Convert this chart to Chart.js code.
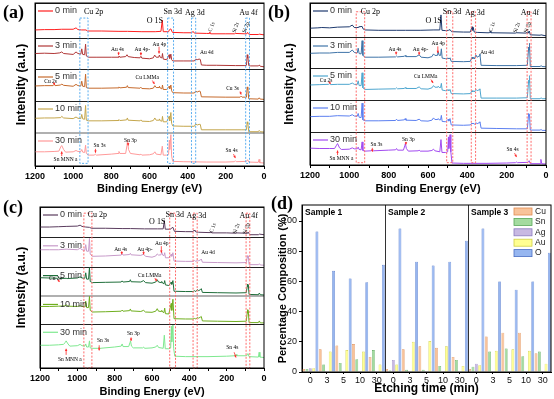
<!DOCTYPE html>
<html><head><meta charset="utf-8">
<script src="https://cdn.jsdelivr.net/npm/chart.js@4.4.1/dist/chart.umd.min.js"></script>
<style>
html,body{margin:0;padding:0;background:#fff;}
body{width:554px;height:399px;position:relative;overflow:hidden;}
canvas{position:absolute;}
.lab{position:absolute;font:bold 18px "Liberation Serif","Times New Roman",serif;color:#000;line-height:18px;}
</style></head><body>
<canvas id="ca" width="277" height="197" style="left:0;top:0"></canvas>
<canvas id="cb" width="277" height="197" style="left:277px;top:0"></canvas>
<canvas id="cc" width="280" height="202" style="left:0;top:197px"></canvas>
<canvas id="cd" width="278" height="202" style="left:276px;top:197px"></canvas>
<div class="lab" style="left:3px;top:3px">(a)</div>
<div class="lab" style="left:268px;top:3px">(b)</div>
<div class="lab" style="left:3px;top:198px">(c)</div>
<div class="lab" style="left:271px;top:194px">(d)</div>
<script>
// ---------------- DATA ----------------
const TIMES = ['0 min', '3 min', '5 min', '10 min', '30 min'];
const BE_TICK_STEP = 200;

// Panel (a) spectra: [binding energy (eV), relative intensity within its strip]
const A_0 = [[1200,0.23],[1150,0.24],[1100,0.24],[1060,0.25],[1000,0.25],[985,0.29],[975,0.24],[955,0.23],[933,0.23],[925,0.2],[850,0.2],[760,0.19],[715,0.19],[640,0.18],[570,0.18],[540,0.19],[533,0.51],[528,0.18],[500,0.18],[495,0.24],[488,0.26],[480,0.16],[420,0.15],[378,0.15],[372,0.19],[365,0.14],[300,0.13],[288,0.13],[284,0.17],[280,0.12],[200,0.12],[155,0.12],[150,0.13],[100,0.12],[90,0.12],[86,0.16],[82,0.12],[75,0.1],[30,0.1],[25,0.11],[0,0.09]];
const A_3 = [[1200,0.5],[1150,0.51],[1100,0.5],[1070,0.52],[1060,0.55],[1050,0.5],[1000,0.47],[985,0.55],[975,0.5],[960,0.48],[955,0.65],[950,0.47],[940,0.46],[935,0.8],[931,0.42],[920,0.38],[880,0.38],[800,0.38],[765,0.38],[760,0.42],[755,0.38],[725,0.4],[718,0.46],[712,0.4],[680,0.37],[650,0.36],[645,0.41],[640,0.35],[600,0.33],[580,0.36],[573,0.45],[565,0.38],[552,0.38],[548,0.45],[543,0.37],[535,0.36],[532,0.5],[528,0.32],[510,0.3],[497,0.46],[494,0.34],[488,0.48],[484,0.3],[478,0.26],[420,0.26],[365,0.26],[358,0.32],[350,0.3],[340,0.32],[334,0.31],[328,0.13],[300,0.12],[250,0.12],[150,0.11],[100,0.11],[92,0.12],[88,0.46],[86,0.35],[84,0.42],[80,0.11],[70,0.1],[30,0.1],[25,0.13],[20,0.09],[0,0.07]];
const A_5 = [[1200,0.47],[1150,0.48],[1105,0.48],[1100,0.52],[1095,0.48],[1065,0.5],[1060,0.53],[1050,0.49],[1000,0.46],[985,0.52],[975,0.48],[960,0.47],[955,0.62],[950,0.46],[940,0.45],[935,0.84],[931,0.42],[920,0.4],[850,0.4],[765,0.41],[760,0.44],[755,0.41],[720,0.43],[716,0.48],[712,0.42],[650,0.4],[645,0.43],[640,0.39],[600,0.38],[580,0.4],[572,0.48],[565,0.42],[550,0.42],[548,0.46],[543,0.4],[535,0.38],[532,0.5],[528,0.36],[510,0.36],[497,0.46],[494,0.38],[488,0.5],[484,0.32],[478,0.26],[420,0.25],[365,0.25],[358,0.31],[350,0.28],[340,0.31],[334,0.3],[328,0.13],[200,0.12],[125,0.12],[120,0.15],[115,0.12],[92,0.12],[88,0.44],[86,0.36],[84,0.42],[80,0.07],[30,0.06],[25,0.1],[20,0.06],[0,0.05]];
const A_10 = [[1200,0.46],[1150,0.47],[1100,0.47],[1065,0.48],[1060,0.52],[1050,0.47],[1000,0.45],[985,0.5],[975,0.46],[960,0.45],[955,0.58],[950,0.44],[940,0.43],[935,0.86],[931,0.4],[920,0.38],[850,0.38],[765,0.39],[760,0.42],[755,0.39],[720,0.41],[716,0.47],[712,0.4],[650,0.38],[645,0.41],[640,0.37],[600,0.36],[580,0.39],[572,0.47],[565,0.4],[550,0.4],[548,0.44],[543,0.38],[535,0.37],[532,0.52],[528,0.35],[510,0.35],[497,0.52],[494,0.38],[488,0.64],[484,0.3],[478,0.22],[420,0.21],[365,0.21],[358,0.28],[350,0.25],[340,0.27],[334,0.27],[328,0.1],[200,0.1],[120,0.1],[92,0.1],[88,0.35],[86,0.28],[84,0.33],[80,0.04],[30,0.04],[25,0.08],[20,0.04],[0,0.03]];
const A_30 = [[1200,0.43],[1150,0.43],[1100,0.44],[1075,0.45],[1065,0.58],[1060,0.62],[1050,0.5],[1040,0.42],[1000,0.43],[985,0.47],[975,0.44],[960,0.44],[955,0.5],[950,0.42],[940,0.41],[935,0.63],[931,0.38],[920,0.33],[890,0.33],[884,0.36],[878,0.33],[800,0.36],[765,0.38],[760,0.44],[755,0.38],[725,0.38],[718,0.62],[715,0.79],[710,0.5],[700,0.38],[650,0.34],[645,0.36],[640,0.33],[600,0.34],[580,0.37],[572,0.43],[565,0.36],[540,0.34],[533,0.6],[528,0.33],[510,0.33],[500,0.35],[496,0.78],[494,0.5],[488,0.95],[484,0.3],[478,0.14],[420,0.13],[300,0.12],[200,0.12],[155,0.13],[150,0.16],[145,0.13],[95,0.14],[90,0.15],[86,0.19],[80,0.12],[30,0.11],[26,0.2],[22,0.1],[0,0.09]];

// Panel (b) spectra
const B_0 = [[1200,0.28],[1160,0.29],[1140,0.3],[1100,0.29],[1060,0.31],[1000,0.32],[985,0.37],[975,0.3],[955,0.3],[952,0.32],[935,0.33],[930,0.26],[920,0.23],[850,0.22],[760,0.22],[715,0.22],[640,0.22],[570,0.23],[540,0.23],[534,0.66],[529,0.22],[510,0.21],[496,0.22],[488,0.24],[480,0.18],[420,0.17],[385,0.17],[376,0.32],[373,0.22],[370,0.3],[365,0.17],[350,0.16],[300,0.15],[288,0.15],[284,0.19],[280,0.15],[155,0.14],[150,0.15],[102,0.14],[98,0.15],[90,0.14],[86,0.2],[84,0.18],[80,0.09],[30,0.08],[25,0.09],[0,0.06]];
const B_3 = [[1200,0.49],[1150,0.5],[1100,0.5],[1060,0.52],[1000,0.52],[985,0.6],[975,0.52],[960,0.5],[955,0.66],[950,0.48],[940,0.47],[935,0.91],[931,0.42],[920,0.36],[850,0.36],[765,0.37],[760,0.4],[755,0.37],[720,0.39],[716,0.42],[712,0.38],[660,0.38],[645,0.44],[635,0.36],[600,0.34],[580,0.38],[572,0.47],[565,0.42],[552,0.42],[548,0.54],[543,0.42],[536,0.42],[532,0.64],[528,0.33],[510,0.31],[497,0.33],[494,0.3],[488,0.34],[482,0.22],[420,0.21],[385,0.22],[376,0.36],[373,0.3],[370,0.36],[365,0.3],[356,0.43],[350,0.36],[340,0.4],[336,0.47],[330,0.09],[250,0.08],[150,0.08],[95,0.09],[88,0.7],[86,0.6],[84,0.82],[80,0.05],[30,0.05],[25,0.08],[20,0.05],[0,0.04]];
const B_5 = [[1200,0.47],[1150,0.48],[1105,0.49],[1100,0.51],[1095,0.48],[1060,0.49],[1000,0.49],[985,0.53],[975,0.49],[960,0.48],[955,0.6],[950,0.45],[940,0.45],[935,0.85],[931,0.38],[920,0.33],[850,0.34],[765,0.35],[760,0.38],[755,0.35],[720,0.36],[716,0.39],[712,0.36],[660,0.36],[645,0.41],[635,0.35],[600,0.34],[580,0.38],[572,0.45],[565,0.4],[550,0.4],[548,0.43],[543,0.39],[536,0.39],[532,0.52],[528,0.31],[510,0.29],[497,0.32],[494,0.29],[488,0.33],[482,0.2],[420,0.19],[385,0.2],[376,0.29],[373,0.25],[370,0.29],[365,0.25],[356,0.33],[350,0.29],[340,0.32],[336,0.35],[330,0.06],[250,0.06],[150,0.06],[95,0.07],[88,0.62],[86,0.55],[84,0.76],[80,0.04],[30,0.04],[25,0.07],[20,0.04],[0,0.04]];
const B_10 = [[1200,0.48],[1150,0.49],[1100,0.49],[1060,0.51],[1000,0.5],[985,0.54],[975,0.5],[960,0.49],[955,0.58],[950,0.46],[940,0.45],[935,0.9],[931,0.38],[920,0.35],[850,0.35],[765,0.36],[760,0.4],[755,0.36],[720,0.38],[716,0.42],[712,0.37],[660,0.36],[645,0.4],[635,0.35],[600,0.34],[580,0.37],[572,0.44],[565,0.39],[550,0.39],[548,0.42],[543,0.38],[536,0.38],[532,0.52],[528,0.33],[510,0.32],[497,0.4],[494,0.34],[488,0.42],[482,0.22],[420,0.21],[385,0.22],[376,0.28],[373,0.25],[370,0.28],[365,0.24],[356,0.29],[350,0.26],[340,0.29],[336,0.32],[330,0.12],[250,0.11],[150,0.1],[95,0.1],[88,0.58],[86,0.5],[84,0.55],[80,0.06],[30,0.06],[25,0.08],[20,0.05],[0,0.05]];
const B_30 = [[1200,0.51],[1150,0.5],[1100,0.5],[1075,0.5],[1065,0.6],[1060,0.65],[1050,0.52],[1040,0.47],[1000,0.48],[985,0.52],[975,0.49],[960,0.49],[955,0.54],[950,0.47],[940,0.46],[935,0.7],[931,0.44],[920,0.42],[890,0.43],[884,0.46],[878,0.43],[800,0.45],[765,0.46],[760,0.5],[755,0.45],[725,0.45],[718,0.58],[715,0.65],[710,0.5],[700,0.42],[650,0.43],[645,0.45],[640,0.42],[600,0.42],[580,0.44],[572,0.48],[565,0.43],[540,0.4],[534,0.77],[529,0.38],[510,0.38],[500,0.4],[496,0.85],[494,0.5],[488,0.92],[484,0.4],[478,0.06],[420,0.05],[300,0.05],[200,0.06],[155,0.07],[150,0.09],[145,0.07],[95,0.08],[90,0.1],[86,0.13],[80,0.04],[30,0.04],[26,0.17],[22,0.04],[0,0.03]];

// Panel (c) spectra
const C_0 = [[1200,0.35],[1150,0.35],[1100,0.36],[1060,0.37],[1000,0.38],[985,0.41],[975,0.37],[955,0.35],[935,0.34],[925,0.31],[850,0.31],[760,0.3],[715,0.3],[640,0.29],[570,0.29],[540,0.29],[534,0.56],[529,0.28],[500,0.28],[495,0.32],[488,0.34],[480,0.21],[420,0.2],[380,0.2],[375,0.25],[370,0.22],[365,0.19],[350,0.18],[300,0.17],[288,0.17],[284,0.2],[280,0.16],[200,0.16],[155,0.15],[150,0.16],[100,0.15],[90,0.15],[86,0.19],[82,0.15],[75,0.1],[30,0.1],[25,0.12],[0,0.1]];
const C_3 = [[1200,0.6],[1150,0.6],[1100,0.6],[1060,0.62],[1000,0.6],[985,0.65],[975,0.6],[960,0.58],[955,0.77],[950,0.55],[940,0.55],[935,0.98],[931,0.45],[920,0.38],[850,0.39],[765,0.42],[760,0.47],[755,0.42],[720,0.44],[716,0.48],[712,0.43],[660,0.41],[645,0.45],[635,0.38],[600,0.35],[580,0.39],[572,0.46],[565,0.42],[552,0.43],[548,0.52],[543,0.42],[536,0.4],[532,0.5],[528,0.33],[510,0.33],[497,0.45],[494,0.38],[488,0.5],[482,0.22],[420,0.21],[380,0.21],[373,0.24],[365,0.21],[356,0.25],[350,0.23],[340,0.26],[336,0.29],[330,0.18],[250,0.17],[150,0.16],[95,0.17],[88,0.4],[86,0.33],[84,0.38],[80,0.1],[30,0.1],[25,0.13],[20,0.09],[0,0.08]];
const C_5 = [[1200,0.65],[1150,0.64],[1105,0.63],[1100,0.66],[1095,0.62],[1060,0.63],[1055,0.62],[1000,0.64],[985,0.68],[975,0.64],[960,0.63],[955,0.82],[950,0.6],[940,0.6],[935,1.0],[931,0.52],[920,0.48],[850,0.49],[765,0.5],[760,0.54],[755,0.5],[720,0.52],[716,0.58],[712,0.51],[660,0.5],[645,0.55],[635,0.48],[600,0.46],[580,0.5],[572,0.58],[565,0.5],[550,0.48],[548,0.52],[543,0.46],[536,0.44],[532,0.55],[528,0.4],[510,0.38],[497,0.5],[494,0.42],[488,0.55],[482,0.18],[420,0.17],[380,0.17],[373,0.2],[365,0.17],[356,0.24],[350,0.2],[340,0.24],[336,0.27],[330,0.14],[250,0.13],[150,0.12],[95,0.13],[88,0.42],[86,0.34],[84,0.38],[80,0.07],[30,0.06],[25,0.12],[20,0.06],[0,0.05]];
const C_10 = [[1200,0.64],[1150,0.64],[1100,0.65],[1065,0.66],[1060,0.7],[1050,0.65],[1000,0.64],[985,0.67],[975,0.64],[960,0.63],[955,0.83],[950,0.6],[940,0.6],[935,1.0],[931,0.5],[920,0.44],[850,0.45],[765,0.47],[760,0.51],[755,0.47],[720,0.49],[716,0.55],[712,0.48],[660,0.46],[645,0.5],[635,0.44],[600,0.43],[580,0.47],[572,0.56],[565,0.47],[550,0.46],[548,0.5],[543,0.44],[536,0.42],[532,0.58],[528,0.38],[510,0.37],[497,0.75],[494,0.5],[488,0.9],[482,0.2],[420,0.19],[380,0.19],[373,0.21],[365,0.19],[356,0.25],[350,0.22],[340,0.26],[336,0.28],[330,0.12],[250,0.11],[150,0.1],[95,0.11],[88,0.52],[86,0.4],[84,0.45],[80,0.06],[30,0.06],[25,0.12],[20,0.05],[0,0.05]];
const C_30 = [[1200,0.52],[1150,0.52],[1100,0.53],[1075,0.54],[1065,0.58],[1060,0.62],[1050,0.55],[1040,0.5],[1000,0.51],[985,0.54],[975,0.51],[960,0.5],[955,0.55],[950,0.48],[940,0.48],[935,0.62],[931,0.46],[920,0.45],[890,0.45],[884,0.47],[878,0.45],[800,0.48],[765,0.5],[760,0.55],[755,0.49],[725,0.49],[718,0.58],[715,0.62],[710,0.5],[700,0.46],[650,0.46],[645,0.48],[640,0.45],[600,0.46],[580,0.48],[572,0.52],[565,0.47],[540,0.45],[534,0.75],[529,0.44],[510,0.44],[500,0.46],[496,0.95],[494,0.6],[488,0.98],[484,0.45],[478,0.27],[420,0.26],[300,0.26],[200,0.27],[155,0.28],[150,0.31],[145,0.28],[95,0.28],[90,0.3],[86,0.33],[80,0.26],[30,0.25],[26,0.36],[22,0.25],[0,0.24]];

// Peak labels: text, BE, strip (0 = top), relative height, size, angle, panels
const PEAK_LABELS = [
  ['Cu 2p', 893, 0, 0.74, 'L', 0, 'abc'],
  ['O 1S', 572, 0, 0.5, 'L', 0, 'abc'],
  ['Sn 3d', 478, 0, 0.74, 'L', 0, 'abc'],
  ['Ag 3d', 362, 0, 0.72, 'L', 0, 'abc'],
  ['Au 4f', 82, 0, 0.72, 'L', 0, 'abc'],
  ['C 1s', 274, 0, 0.32, 's', -1.2, 'abc'],
  ['Si 2s', 148, 0, 0.3, 's', -1.2, 'abc'],
  ['Si 2p', 94, 0, 0.3, 's', -1.2, 'abc'],
  ['Au 4s', 768, 1, 0.62, 's', 0, 'abc'],
  ['Au 4p-', 638, 1, 0.62, 's', 0, 'abc'],
  ['Au 4p', 548, 1, 0.8, 's', 0, 'abc'],
  ['Au 4d', 300, 1, 0.52, 's', 0, 'abc'],
  ['Cu 2s', 1118, 2, 0.62, 's', 0, 'abc'],
  ['Cu LMMa', 612, 2, 0.72, 's', 0, 'abc'],
  ['Cu 3s', 165, 2, 0.38, 's', 0, 'a'],
  ['Sn 3s', 862, 4, 0.63, 's', 0, 'abc'],
  ['Sn 3p', 700, 4, 0.78, 's', 0, 'abc'],
  ['Sn MNN a', 1040, 4, 0.2, 's', 0, 'abc'],
  ['Sn 4s', 170, 4, 0.46, 's', 0, 'abc']
];
// Arrows: BE from, rel from, BE to, rel to, strip, panels
const PEAK_ARROWS = [
  [762, 0.55, 762, 0.45, 1, 'abc'],
  [645, 0.55, 645, 0.44, 1, 'abc'],
  [550, 0.72, 550, 0.5, 1, 'abc'],
  [1102, 0.57, 1096, 0.5, 2, 'abc'],
  [585, 0.64, 574, 0.53, 2, 'abc'],
  [125, 0.3, 120, 0.2, 2, 'a'],
  [883, 0.52, 883, 0.4, 4, 'abc'],
  [712, 0.7, 712, 0.62, 4, 'abc'],
  [1060, 0.3, 1060, 0.44, 4, 'abc'],
  [160, 0.36, 150, 0.24, 4, 'abc']
];
// Dashed boxes marking peak regions (BE from, BE to)
const PEAK_BOXES = [[965, 922], [505, 474], [380, 358], [96, 76]];

// Panel (d) composition data
const ETCH_LABELS = ['0','3','5','10','30','0','3','5','10','30','0','3','5','10','30'];
const SAMPLES = ['Sample 1', 'Sample 2', 'Sample 3'];
const CU = [2, 15, 17.5, 18.5, 10, 2, 15, 17, 16, 10, 2, 23.5, 26, 26, 12.5];
const SN = [2, 5, 6, 8.5, 14.5, 1, 1.5, 1.5, 4, 8, 3.5, 13.5, 15.5, 10.5, 13.5];
const AG = [2.5, 0, 0, 0, 0, 8, 0, 0.5, 0, 0, 5.5, 0, 0, 0, 0];
const AU = [2.5, 13.5, 14.5, 13.5, 5, 5, 20, 20.5, 17, 4, 4.5, 14, 15, 14, 5.5];
const O = [93, 67, 62, 59.5, 71, 95, 73, 70.5, 73, 87, 95, 60, 54.5, 60, 79];
const COMP_TICKS_STEP = 20;

// ---------------- DRAWING ----------------
const SANS = '"Liberation Sans", Arial, sans-serif';
const SERIF = '"Liberation Serif", "Times New Roman", serif';
Chart.defaults.font.family = SANS;

function bandBottom(bands, i) { let s = 0; for (let k = i + 1; k < bands.length; k++) s += bands[k]; return s; }
function bandVal(bands, i, r) { return bandBottom(bands, i) + r * bands[i]; }

function arrow(ctx, x1, y1, x2, y2) {
  ctx.beginPath(); ctx.moveTo(x1, y1); ctx.lineTo(x2, y2); ctx.stroke();
  const a = Math.atan2(y2 - y1, x2 - x1), h = 2.6;
  ctx.beginPath();
  ctx.moveTo(x2, y2);
  ctx.lineTo(x2 - h * Math.cos(a - 0.5), y2 - h * Math.sin(a - 0.5));
  ctx.lineTo(x2 - h * Math.cos(a + 0.5), y2 - h * Math.sin(a + 0.5));
  ctx.closePath(); ctx.fill();
}

function xpsPlugin(cfg) {
  return {
    id: 'xps' + cfg.key,
    afterDatasetsDraw(chart) {
      const ctx = chart.ctx, xs = chart.scales.x, ys = chart.scales.y, ca = chart.chartArea;
      const Y = (b, r) => ys.getPixelForValue(bandVal(cfg.bands, b, r));
      ctx.save();
      // dashed boxes
      ctx.strokeStyle = cfg.boxColor; ctx.lineWidth = 1; ctx.setLineDash([2, 1.5]);
      PEAK_BOXES.forEach(([b1, b2]) => {
        const x1 = xs.getPixelForValue(b1), x2 = xs.getPixelForValue(b2);
        const yt = Y(0, cfg.boxTop), yb = Y(4, cfg.boxBottom);
        ctx.strokeRect(x1, yt, x2 - x1, yb - yt);
      });
      ctx.setLineDash([]);
      // frame
      ctx.strokeStyle = '#000'; ctx.lineWidth = 1;
      ctx.strokeRect(ca.left, ca.top, ca.right - ca.left, ca.bottom - ca.top);
      // strip legends
      chart.data.datasets.forEach((ds, i) => {
        const y = Y(i, 1) + cfg.legOff;
        ctx.strokeStyle = ds.borderColor; ctx.lineWidth = 1.2;
        ctx.beginPath(); ctx.moveTo(ca.left + 3, y); ctx.lineTo(ca.left + 18, y); ctx.stroke();
        ctx.fillStyle = '#333'; ctx.font = '9px ' + SANS; ctx.textBaseline = 'middle'; ctx.textAlign = 'left';
        ctx.fillText(ds.label, ca.left + 20, y);
      });
      // peak labels
      ctx.fillStyle = '#000'; ctx.textAlign = 'center'; ctx.textBaseline = 'middle';
      PEAK_LABELS.forEach(([t, be, b, r, sz, ang, pn]) => {
        if (pn.indexOf(cfg.key) < 0) return;
        const x = xs.getPixelForValue(be), y = Y(b, r);
        ctx.font = (sz === 'L' ? '8px ' : '5.5px ') + SERIF;
        ctx.save(); ctx.translate(x, y); ctx.rotate(ang); ctx.fillText(t, 0, 0); ctx.restore();
      });
      // arrows
      ctx.strokeStyle = '#ff2a2a'; ctx.fillStyle = '#ff2a2a'; ctx.lineWidth = 0.8;
      PEAK_ARROWS.forEach(([b1, r1, b2, r2, b, pn]) => {
        if (pn.indexOf(cfg.key) < 0) return;
        arrow(ctx, xs.getPixelForValue(b1), Y(b, r1), xs.getPixelForValue(b2), Y(b, r2));
      });
      ctx.restore();
    }
  };
}

function makeXps(id, spectra, colors, cfg) {
  const total = cfg.bands.reduce((a, b) => a + b, 0);
  const edges = cfg.bands.map((h, i) => bandBottom(cfg.bands, i)).concat([total]);
  const datasets = spectra.map((s, i) => ({
    label: TIMES[i],
    data: s.map(([x, r]) => ({ x: x, y: bandVal(cfg.bands, i, r) })),
    borderColor: colors[i], borderWidth: 1, pointRadius: 0, tension: 0, fill: false
  }));
  new Chart(document.getElementById(id), {
    type: 'line',
    data: { datasets },
    options: {
      responsive: false, animation: false, devicePixelRatio: 1,
      layout: { padding: cfg.padding },
      plugins: { legend: { display: false }, tooltip: { enabled: false } },
      scales: {
        x: {
          type: 'linear', min: 0, max: 1200, reverse: true,
          ticks: { stepSize: BE_TICK_STEP / 2, autoSkip: false, maxRotation: 0, color: '#000', padding: 2,
            font: { family: SANS, size: 9, weight: 'bold' },
            callback: v => (v % BE_TICK_STEP === 0 ? String(v) : '') },
          grid: { display: true, drawOnChartArea: false, drawTicks: true, tickLength: 3, color: '#000' },
          border: { display: true, color: '#000' },
          title: { display: true, text: 'Binding Energy (eV)', color: '#000',
            font: { family: SANS, size: 11, weight: 'bold' }, padding: { top: 0, bottom: cfg.xTitlePad } },
          afterFit: s => { s.height = cfg.xAxisH; }
        },
        y: {
          type: 'linear', min: 0, max: total,
          afterBuildTicks: s => { s.ticks = edges.map(v => ({ value: v })); },
          ticks: { display: false },
          grid: { display: true, drawTicks: false,
            color: c => (c.tick && c.tick.value === cfg.grayEdge ? '#b0b0b0' : '#222'),
            lineWidth: c => (c.tick && c.tick.value === cfg.grayEdge ? 2 : 1) },
          border: { display: true, color: '#000' },
          title: { display: true, text: 'Intensity (a.u.)', color: '#000',
            font: { family: SANS, size: 12, weight: 'bold' }, padding: { top: cfg.yTitlePad, bottom: 0 } },
          afterFit: s => { s.width = cfg.yAxisW; }
        }
      }
    },
    plugins: [xpsPlugin(cfg)]
  });
}

makeXps('ca', [A_0, A_3, A_5, A_10, A_30],
  ['#ff1f1f', '#b03636', '#c66a2c', '#c4a64c', '#ff9a9a'],
  { key: 'a', bands: [35, 31, 32, 32, 33], padding: { left: 0, right: 13, top: 3, bottom: 0 },
    yAxisW: 35, xAxisH: 31, xTitlePad: 1.4, yTitlePad: 14.8, boxColor: '#5aaef0',
    boxTop: 0.57, boxBottom: 0.08, legOff: 8, grayEdge: 33 });
makeXps('cb', [B_0, B_3, B_5, B_10, B_30],
  ['#1e3a6e', '#3f74a8', '#4ea6cf', '#5b7ff0', '#a24af0'],
  { key: 'b', bands: [35, 30, 32, 32, 33], padding: { left: 0, right: 8, top: 3, bottom: 0 },
    yAxisW: 33, xAxisH: 32, xTitlePad: 1.4, yTitlePad: 5.8, boxColor: '#ff6b6b',
    boxTop: 0.75, boxBottom: 0.07, legOff: 8, grayEdge: -1 });
makeXps('cc', [C_0, C_3, C_5, C_10, C_30],
  ['#5a3c5e', '#c79ac9', '#1f6e3a', '#6fae1e', '#7ee88f'],
  { key: 'c', bands: [31, 30, 29, 28, 44], padding: { left: 0, right: 16, top: 10, bottom: 0 },
    yAxisW: 40, xAxisH: 31, xTitlePad: 0.4, yTitlePad: 14.8, boxColor: '#ff6b6b',
    boxTop: 0.8, boxBottom: 0.0, legOff: 8, grayEdge: 72 });

// ---- Panel (d) ----
const compPlugin = {
  id: 'compDecor',
  afterDatasetsDraw(chart) {
    const { ctx, chartArea: ca, scales: { x } } = chart;
    ctx.save();
    ctx.strokeStyle = '#333'; ctx.lineWidth = 1;
    [4, 9].forEach(i => {
      const px = Math.round((x.getPixelForValue(i) + x.getPixelForValue(i + 1)) / 2) + 0.5;
      ctx.beginPath(); ctx.moveTo(px, ca.top); ctx.lineTo(px, ca.bottom); ctx.stroke();
    });
    ctx.strokeStyle = '#000';
    ctx.strokeRect(ca.left, ca.top, ca.right - ca.left, ca.bottom - ca.top);
    ctx.fillStyle = '#000'; ctx.font = 'bold 8.5px ' + SANS; ctx.textBaseline = 'middle'; ctx.textAlign = 'left';
    SAMPLES.forEach((s, k) => {
      const left = k === 0 ? ca.left : (x.getPixelForValue(5 * k - 1) + x.getPixelForValue(5 * k)) / 2;
      ctx.fillText(s, left + 3, ca.top + 8);
    });
    // legend
    ctx.font = '8.5px ' + SANS;
    chart.data.datasets.forEach((ds, k) => {
      const y = ca.top + 6.5 + k * 10.4;
      const x0 = ca.right - 37;
      ctx.fillStyle = ds.backgroundColor; ctx.fillRect(x0, y - 3.5, 18, 7);
      ctx.strokeStyle = ds.borderColor; ctx.lineWidth = 0.8; ctx.strokeRect(x0, y - 3.5, 18, 7);
      ctx.fillStyle = '#222'; ctx.fillText(ds.label, x0 + 21, y);
    });
    ctx.restore();
  }
};

const barDs = (label, data, fill, edge) => ({ label, data, backgroundColor: fill, borderColor: edge,
  borderWidth: 0.6, categoryPercentage: 1.0, barPercentage: 0.85 });

new Chart(document.getElementById('cd'), {
  type: 'bar',
  data: {
    labels: ETCH_LABELS,
    datasets: [
      barDs('Cu', CU, '#f8c39a', '#e08c52'),
      barDs('Sn', SN, '#a4dba0', '#58a858'),
      barDs('Ag', AG, '#c8b9e2', '#8c7cc0'),
      barDs('Au', AU, '#ffff92', '#cfcf44'),
      barDs('O', O, '#96b6f0', '#4a6ec4')
    ]
  },
  options: {
    responsive: false, animation: false, devicePixelRatio: 1,
    layout: { padding: { left: 0, right: 3, top: 8, bottom: 0 } },
    plugins: { legend: { display: false }, tooltip: { enabled: false } },
    scales: {
      x: {
        ticks: { autoSkip: false, maxRotation: 0, color: '#111', padding: 1, font: { family: SANS, size: 9 } },
        grid: { display: true, drawOnChartArea: false, drawTicks: true, tickLength: 2, color: '#000', offset: false },
        border: { display: true, color: '#000' },
        title: { display: true, text: 'Etching time (min)', color: '#000',
          font: { family: SANS, size: 12, weight: 'bold' }, padding: { top: 0, bottom: 2.8 } },
        afterFit: s => { s.height = 27; }
      },
      y: {
        min: 0, max: 110.6,
        ticks: { stepSize: COMP_TICKS_STEP, includeBounds: false, color: '#111', padding: 2, font: { family: SANS, size: 9 } },
        grid: { display: true, drawOnChartArea: false, drawTicks: true, tickLength: 3, color: '#000' },
        border: { display: true, color: '#000' },
        title: { display: true, text: 'Percentage Composition (%)', color: '#000',
          font: { family: SANS, size: 11, weight: 'bold' }, padding: { top: 0.4, bottom: 0 } },
        afterFit: s => { s.width = 26; }
      }
    }
  },
  plugins: [compPlugin]
});
</script>
</body></html>
